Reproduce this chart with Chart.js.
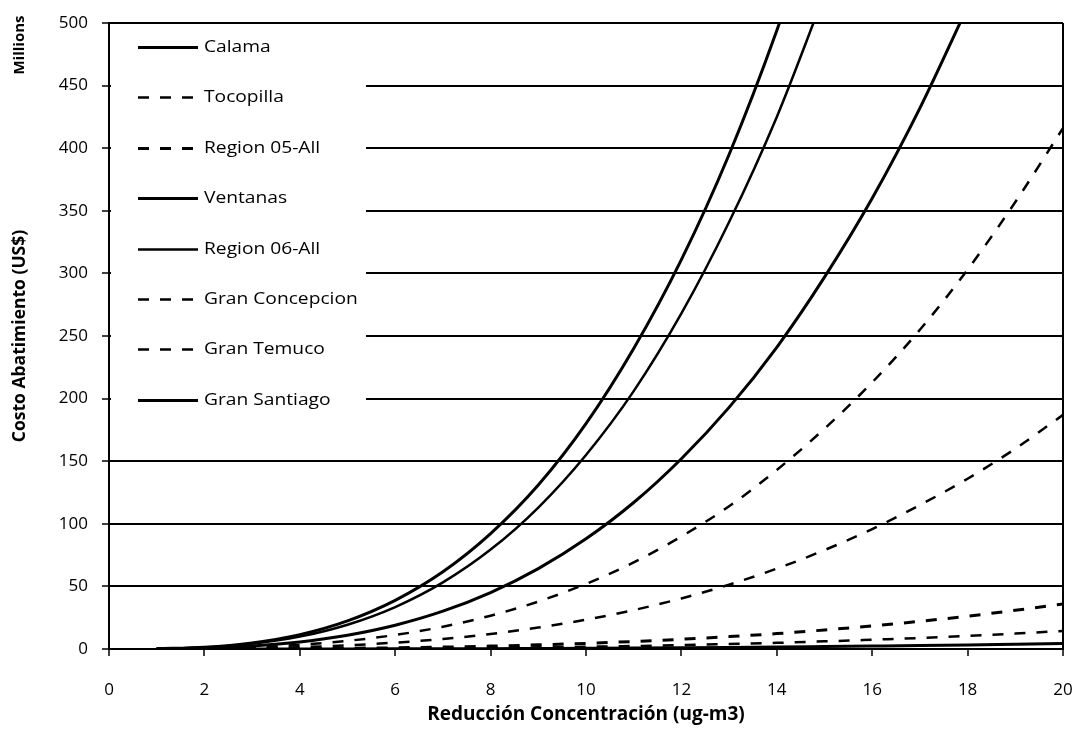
<!DOCTYPE html>
<html>
<head>
<meta charset="utf-8">
<script src="https://cdn.jsdelivr.net/npm/chart.js@4/dist/chart.umd.min.js"></script>
<style>
  html, body { margin: 0; padding: 0; background: #fff; }
  #wrap { width: 1078px; height: 736px; }
</style>
</head>
<body>
<div id="wrap"><canvas id="c" width="1078" height="736"></canvas></div>
<script>
// ---- Data ----
const xValues = [1,2,3,4,5,6,7,8,9,10,11,12,13,14,15,16,17,18,19,20];
const seriesNames = ["Calama","Tocopilla","Region 05-All","Ventanas","Region 06-All","Gran Concepcion","Gran Temuco","Gran Santiago"];
const calama         = [0,0,0.01,0.04,0.07,0.12,0.19,0.28,0.4,0.55,0.73,0.95,1.2,1.5,1.9,2.3,2.7,3.2,3.8,4.4];
const tocopilla      = [0,0.01,0.05,0.12,0.23,0.39,0.62,0.92,1.3,1.8,2.4,3.1,4.0,4.9,6.1,7.4,8.8,10.5,12.3,14.4];
const region05All    = [0,0.04,0.12,0.29,0.56,0.97,1.5,2.3,3.3,4.5,6.0,7.8,9.9,12.3,15.2,18.4,22.1,26.2,30.9,36];
const ventanas       = [0.09,0.7,2.4,5.6,11,19,30.2,45.1,64.2,88,117,152,193,241,297,360,432,513];
const region06All    = [0.16,1.24,4.2,9.9,19.4,33.5,53.2,79.4,113,155,206,268,341,425,523];
const granConcepcion = [0.05,0.42,1.4,3.3,6.5,11.2,17.8,26.6,37.9,52,69.2,89.9,114,143,176,213,255,303,357,416];
const granTemuco     = [0.02,0.19,0.63,1.5,2.9,5.1,8.0,12,17.1,23.4,31.1,40.4,51.4,64.2,79,95.8,115,136,160,187];
const granSantiago   = [0.18,1.4,4.9,11.5,22.5,38.9,61.7,92.2,131,180,240,311,395,494,608];
const xTicks = [0,2,4,6,8,10,12,14,16,18,20];
const yTicks = [0,50,100,150,200,250,300,350,400,450,500];

const allSeries = [calama, tocopilla, region05All, ventanas, region06All, granConcepcion, granTemuco, granSantiago];
const dashes = [[], [11,11], [11,11], [], [], [11,11], [11,11], []];
const widths = [3, 2.5, 3, 3, 2.5, 2.5, 2.5, 3];

function toPoints(vals) { return vals.map((v, i) => ({ x: xValues[i], y: v })); }

const FONT = "'Open Sans', 'DejaVu Sans', sans-serif";

const datasets = allSeries.map((vals, i) => ({
  label: seriesNames[i],
  data: toPoints(vals),
  borderColor: '#000',
  backgroundColor: '#000',
  borderWidth: widths[i],
  borderDash: dashes[i],
  pointRadius: 0,
  fill: false,
  cubicInterpolationMode: 'monotone',
  clip: 0
}));

const legendPlugin = {
  id: 'boxLegend',
  beforeDatasetsDraw(chart) {
    const { ctx, chartArea: a } = chart;
    ctx.save();
    ctx.fillStyle = '#fff';
    ctx.fillRect(a.left + 2, a.top + 2, 255, 393);
    ctx.textBaseline = 'middle';
    ctx.textAlign = 'left';
    chart.data.datasets.forEach((ds, i) => {
      const y = Math.round(a.top + 24 + i * 50.4) + 0.5;
      ctx.strokeStyle = '#000';
      ctx.lineWidth = ds.borderWidth;
      ctx.setLineDash(ds.borderDash || []);
      ctx.beginPath();
      ctx.moveTo(a.left + 29, y);
      ctx.lineTo(a.left + 89, y);
      ctx.stroke();
      ctx.setLineDash([]);
      ctx.save();
      ctx.translate(a.left + 95, y);
      ctx.scale(1.2, 1);
      ctx.font = "16px " + FONT;
      ctx.fillStyle = '#000';
      ctx.fillText(ds.label, 0, 0);
      ctx.restore();
    });
    ctx.restore();
  },
  afterDraw(chart) {
    const { ctx } = chart;
    ctx.save();
    ctx.translate(20, 45);
    ctx.rotate(-Math.PI / 2);
    ctx.font = "bold 15px " + FONT;
    ctx.fillStyle = '#000';
    ctx.textAlign = 'center';
    ctx.textBaseline = 'middle';
    ctx.fillText('Millions', 0, 0);
    ctx.restore();
  }
};

new Chart(document.getElementById('c'), {
  type: 'line',
  data: { datasets },
  plugins: [legendPlugin],
  options: {
    responsive: false,
    animation: false,
    layout: { padding: { top: 23, right: 15, left: 0, bottom: 0 } },
    plugins: { legend: { display: false }, tooltip: { enabled: false } },
    scales: {
      x: {
        type: 'linear',
        min: 0, max: 20,
        afterBuildTicks(scale) { scale.ticks = xTicks.map(v => ({ value: v })); },
        afterFit(scale) { scale.height = 87; scale.paddingRight = 0; scale.paddingLeft = 0; },
        ticks: { color: '#000', font: { family: FONT, size: 17 }, padding: 24, maxRotation: 0 },
        grid: {
          drawOnChartArea: true,
          color: (c) => (c.tick && c.tick.value === 20) ? '#000' : 'rgba(0,0,0,0)',
          lineWidth: 2,
          tickColor: '#000',
          tickLength: 7,
          tickWidth: 1.5
        },
        border: { display: true, color: '#000', width: 2 },
        title: {
          display: true,
          text: 'Reducción Concentración (ug-m3)',
          color: '#000',
          font: { family: FONT, size: 19, weight: 'bold' },
          padding: { top: 0, bottom: 10 }
        }
      },
      y: {
        min: 0, max: 500,
        afterBuildTicks(scale) { scale.ticks = yTicks.map(v => ({ value: v })); },
        afterFit(scale) { scale.width = 109; scale.paddingTop = 0; scale.paddingBottom = 0; },
        ticks: { color: '#000', font: { family: FONT, size: 17 }, padding: 14 },
        grid: {
          color: '#000',
          lineWidth: 2,
          tickColor: '#000',
          tickLength: 7,
          tickWidth: 1.5
        },
        border: { display: true, color: '#000', width: 2 },
        title: {
          display: true,
          text: 'Costo Abatimiento (US$)',
          color: '#000',
          font: { family: FONT, size: 17.5, weight: 'bold' },
          padding: { top: 10, bottom: 0 }
        }
      }
    }
  }
});
</script>
</body>
</html>
